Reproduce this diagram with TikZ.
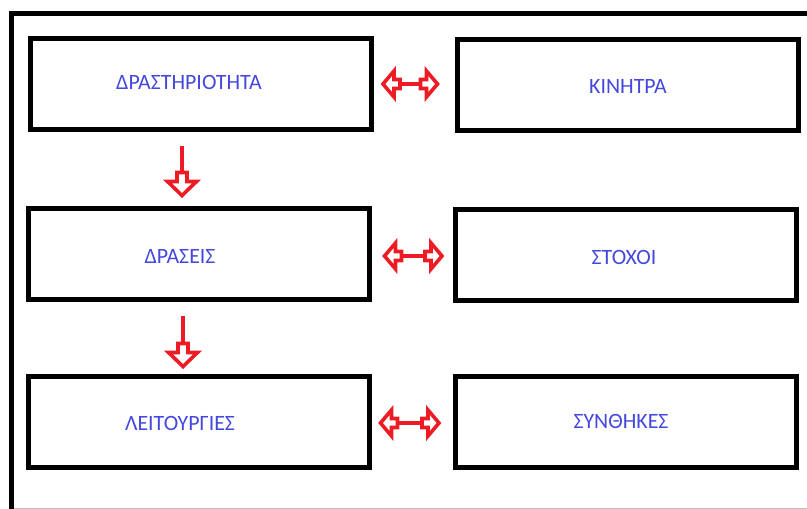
\documentclass[tikz,border=0pt]{standalone}
\usepackage{fontspec}
\setmainfont{Carlito}
\usetikzlibrary{calc}
\definecolor{arrred}{RGB}{237,28,36}
\definecolor{txtblue}{RGB}{68,72,220}
\tikzset{
  box/.style={draw=black,line width=3.75pt,minimum width=255.75pt,minimum height=68.25pt,inner sep=0pt},
  lbl/.style={text=txtblue,font=\fontsize{16.4}{19}\selectfont,inner sep=0pt},
  shaft/.style={draw=arrred,line width=2.7pt},
  headline/.style={draw=arrred,fill=white,line width=2.7pt,line join=miter},
  hhead/.pic={\path[headline] (0,0) -- (-11,-13) -- (-11,-4.5) -- (-17,-4.5) -- (-17,4.5) -- (-11,4.5) -- (-11,13) -- cycle;},
  vhead/.pic={\path[headline] (0,0) -- (-14,-14.5) -- (-14,-5) -- (-23,-5) -- (-23,5) -- (-14,5) -- (-14,14.5) -- cycle;}
}
\begin{document}
\begin{tikzpicture}[x=0.75pt,y=-0.75pt]
\useasboundingbox (0,0) rectangle (807,509);
\clip (0,0) rectangle (807,509);
% outer frame
\draw[line width=3.75pt,line join=miter] (11.5,530) -- (11.5,13.5) -- (830,13.5);
\draw[black!25,line width=0.75pt] (14,508) -- (807,508);
% boxes
\node[box] (b1) at (201,84.5) {};
\node[box] (b2) at (627.5,85.5) {};
\node[box] (b3) at (199,254.5) {};
\node[box] (b4) at (626,255) {};
\node[box] (b5) at (199,422.5) {};
\node[box] (b6) at (626,422.5) {};
% labels
\node[lbl] (t1) at ($(b1.center)+(-12,-2.5)$) {ΔΡΑΣΤΗΡΙΟΤΗΤΑ};
\node[lbl] (t2) at ($(b2.center)+(0.5,0.5)$) {ΚΙΝΗΤΡΑ};
\node[lbl] (t3) at ($(b3.center)+(-19,1.5)$) {ΔΡΑΣΕΙΣ};
\node[lbl] (t4) at ($(b4.center)+(-2,2)$) {ΣΤΟΧΟΙ};
\node[lbl] (t5) at ($(b5.center)+(-19,0.5)$) {ΛΕΙΤΟΥΡΓΙΕΣ};
\node[lbl] (t6) at ($(b6.center)+(-5,-1.5)$) {ΣΥΝΘΗΚΕΣ};
% horizontal double arrows
\coordinate (h1l) at ($(b1.east)+(9,-0.5)$);
\coordinate (h1r) at ($(b2.west)+(-17,-1.5)$);
\coordinate (h2l) at ($(b3.east)+(12.5,1.5)$);
\coordinate (h2r) at ($(b4.west)+(-11,1)$);
\coordinate (h3l) at ($(b5.east)+(8.5,0.5)$);
\coordinate (h3r) at ($(b6.west)+(-14,0.5)$);
\foreach \l/\r in {h1l/h1r,h2l/h2r,h3l/h3r}{
  \draw[shaft] (\l) -- (\r);
  \pic[rotate=180] at (\l) {hhead};
  \pic at (\r) {hhead};
}
% vertical arrows
\coordinate (v1s) at ($(b1.south)+(-19,13.5)$);
\coordinate (v1e) at ($(b3.north)+(-17,-11)$);
\coordinate (v2s) at ($(b3.south)+(-16,13.5)$);
\coordinate (v2e) at ($(b5.north)+(-16,-8)$);
\draw[shaft] (v1s) -- (v1e);
\pic[rotate=-90] at (v1e) {vhead};
\draw[shaft] (v2s) -- (v2e);
\pic[rotate=-90] at (v2e) {vhead};
\end{tikzpicture}
\end{document}
